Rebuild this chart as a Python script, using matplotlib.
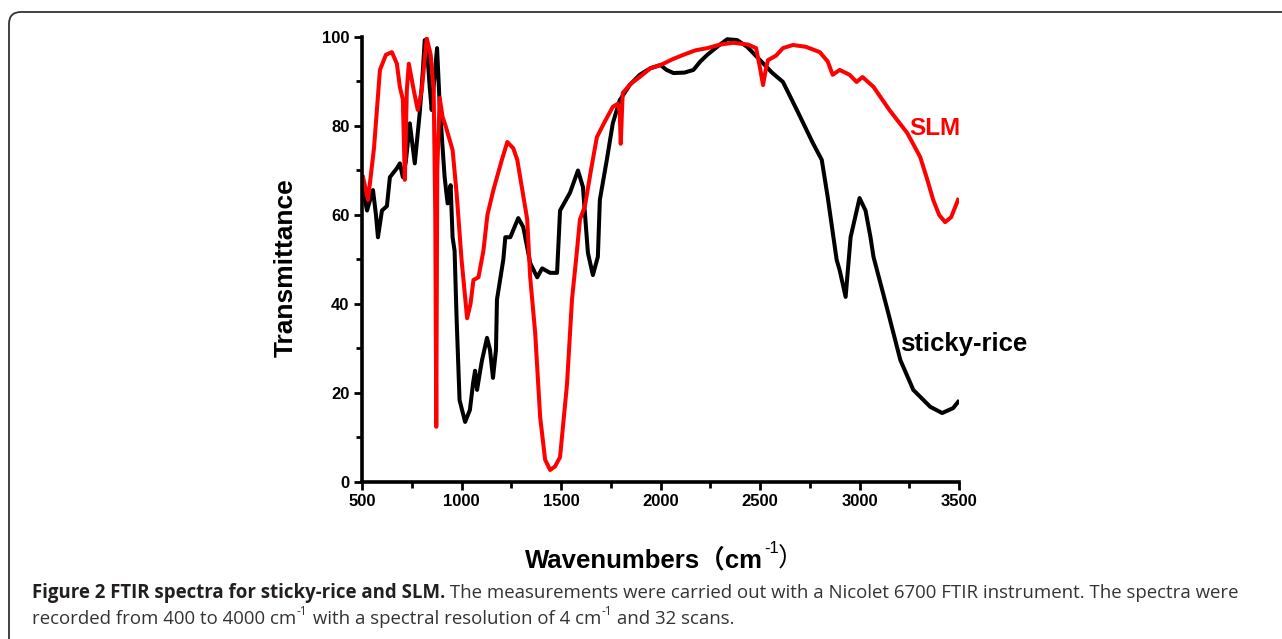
import matplotlib
matplotlib.use('Agg')
import matplotlib.pyplot as plt
from matplotlib.patches import FancyBboxPatch
from matplotlib.ticker import MultipleLocator

plt.rcParams['font.family'] = ['Liberation Sans', 'Noto Sans CJK SC', 'DejaVu Sans']

# SLM spectrum (wavenumber, transmittance)
slm_x = [505, 530, 560, 590, 620, 650, 675, 690, 705, 715, 725, 735, 760, 780, 800, 825,
         845, 860, 868, 873, 878, 890, 905, 920, 955, 975, 1000, 1028, 1045, 1060, 1085,
         1110, 1130, 1160, 1200, 1230, 1260, 1280, 1330, 1345, 1370, 1395, 1420, 1445,
         1470, 1495, 1530, 1555, 1580, 1595, 1620, 1650, 1680, 1720, 1760, 1785, 1795,
         1800, 1805, 1810, 1850, 1895, 1950, 2000, 2060, 2115, 2175, 2235, 2300, 2365,
         2440, 2480, 2500, 2515, 2530, 2540, 2580, 2615, 2665, 2730, 2800, 2840, 2865,
         2900, 2950, 2985, 3015, 3070, 3150, 3240, 3305, 3340, 3370, 3400, 3430, 3460, 3495]
slm_y = [68.5, 63.4, 75, 92.6, 96, 96.6, 94, 88.8, 86, 67.9, 88, 94, 88, 83.6, 88, 99.7,
         96, 88, 60, 12.4, 70, 86.3, 82, 80, 74.6, 65, 50, 36.8, 40, 45.4, 46,
         52, 60, 65.6, 72, 76.4, 75, 72.4, 59, 46, 33.5, 14.6, 5, 2.7,
         3.5, 5.6, 22, 41, 52, 59, 62, 70, 77.5, 81, 84.3, 85, 83,
         76, 82, 87.4, 89.5, 91, 93, 93.7, 95, 96, 97, 97.5, 98.3, 98.7,
         98.3, 97.5, 93, 89.2, 93, 94.8, 95.8, 97.5, 98.2, 97.8, 96.6, 94.5, 91.5,
         92.6, 91.5, 89.9, 91, 88.8, 83.6, 78.4, 73, 68, 63.4, 60, 58.4, 59.5, 63.4]

# sticky-rice spectrum
rice_x = [505, 525, 555, 570, 580, 600, 625, 640, 675, 690, 705, 720, 740, 765, 790, 805,
          815, 830, 840, 850, 862, 877, 890, 905, 915, 930, 945, 955, 965, 975, 990, 1018,
          1042, 1058, 1068, 1078, 1090, 1103, 1128, 1143, 1158, 1173, 1178, 1210, 1220,
          1245, 1285, 1310, 1345, 1380, 1405, 1445, 1480, 1495, 1545, 1585, 1610, 1635,
          1660, 1685, 1695, 1730, 1760, 1795, 1845, 1895, 1950, 2000, 2030, 2065, 2120,
          2165, 2200, 2235, 2290, 2335, 2385, 2435, 2500, 2560, 2615, 2685, 2765, 2810,
          2840, 2885, 2900, 2930, 2955, 3000, 3030, 3055, 3070, 3140, 3205, 3270, 3355,
          3415, 3470, 3495]
rice_y = [65.6, 61, 65.6, 60, 55, 61, 62, 68.5, 70.5, 71.6, 68.5, 72, 80.6, 71.6, 83, 92,
          99.3, 95, 88.8, 83.6, 90, 97.5, 85, 75, 68.5, 62.6, 66.7, 55, 52, 37, 18.4, 13.5,
          16.2, 22.2, 25, 20.7, 24, 27.4, 32.4, 29.7, 23.4, 29.7, 41, 50, 55,
          55, 59.3, 57.3, 49.2, 46, 48, 47, 47, 61, 65, 70, 66.3, 51.5,
          46.5, 50.6, 63.4, 72.4, 80.6, 85.8, 89.2, 91.5, 93, 93.7, 92.6, 91.9, 92,
          92.6, 94.5, 96, 98, 99.5, 99.3, 97.8, 94.8, 92, 89.9, 83.6, 76.2, 72.4,
          64, 49.9, 47.6, 41.6, 55, 63.8, 61, 55, 50.6, 38.7, 27.4, 20.7, 16.9,
          15.5, 16.6, 18]

fig = plt.figure(figsize=(12.82, 6.39), dpi=100)
ax = fig.add_axes([0.2824, 0.2457, 0.4657, 0.6964])

ax.plot(rice_x, rice_y, color='black', lw=2.9, solid_joinstyle='round')
ax.plot(slm_x, slm_y, color='#ff0000', lw=2.9, solid_joinstyle='round')

ax.set_xlim(500, 3500)
ax.set_ylim(0, 100)
ax.xaxis.set_major_locator(MultipleLocator(500))
ax.xaxis.set_minor_locator(MultipleLocator(250))
ax.yaxis.set_major_locator(MultipleLocator(20))
ax.yaxis.set_minor_locator(MultipleLocator(10))
ax.spines['top'].set_visible(False)
ax.spines['right'].set_visible(False)
for s in ['left', 'bottom']:
    ax.spines[s].set_linewidth(2.6)
ax.tick_params(which='major', direction='out', length=6, width=2, labelsize=12, pad=3)
ax.tick_params(which='minor', direction='out', length=4, width=2)
for lab in ax.get_xticklabels() + ax.get_yticklabels():
    lab.set_fontweight('bold')

ax.set_ylabel('Transmittance', fontsize=19, fontweight='bold')
ax.yaxis.set_label_coords(-0.108, 0.482)

ax.text(3250, 79.5, 'SLM', color='#ff0000', fontsize=17.5, fontweight='bold', ha='left', va='center')
ax.text(3205, 31, 'sticky-rice', color='black', fontsize=18.5, fontweight='bold', ha='left', va='center')

# x axis label with full width brackets and superscript
yb = 0.1127
xl = fig.text(0.4095, yb, 'Wavenumbers（cm', fontsize=18.5, fontweight='bold', ha='left', va='baseline')
sup = ax.annotate('-1', xy=(1, yb), xycoords=(xl, 'figure fraction'), xytext=(1, 10),
                  textcoords='offset points', fontsize=12, ha='left', va='baseline', annotation_clip=False)
ax.annotate('）', xy=(1, yb), xycoords=(sup, 'figure fraction'), xytext=(-1, 0),
            textcoords='offset points', fontsize=18.5, ha='left', va='baseline', annotation_clip=False)

# caption
cap = ['Open Sans', 'DejaVu Sans']
fs = 13.4
y1, y2 = 0.064, 0.0235
c1 = fig.text(0.025, y1, 'Figure 2 FTIR spectra for sticky-rice and SLM.', fontsize=fs,
              fontweight='bold', family=cap, ha='left', va='baseline', color='#231f20')
ax.annotate(' The measurements were carried out with a Nicolet 6700 FTIR instrument. The spectra were',
            xy=(1, y1), xycoords=(c1, 'figure fraction'), fontsize=fs, family=cap,
            ha='left', va='baseline', color='#333333', annotation_clip=False)

parts = ['recorded from 400 to 4000 cm', '-1', ' with a spectral resolution of 4 cm', '-1', ' and 32 scans.']
prev = fig.text(0.025, y2, parts[0], fontsize=fs, family=cap, ha='left', va='baseline', color='#333333')
for p in parts[1:]:
    if p == '-1':
        prev = ax.annotate(p, xy=(1, y2), xycoords=(prev, 'figure fraction'), xytext=(0.5, 6.5),
                           textcoords='offset points', fontsize=8.5, family=cap, ha='left',
                           va='baseline', color='#333333', annotation_clip=False)
    else:
        prev = ax.annotate(p, xy=(1, y2), xycoords=(prev, 'figure fraction'), fontsize=fs,
                           family=cap, ha='left', va='baseline', color='#333333',
                           annotation_clip=False)

# rounded frame round the figure
frame = FancyBboxPatch((9, -40), 1320, 667, boxstyle='round,pad=0,rounding_size=12',
                       transform=None, fill=False, edgecolor='#333333', lw=1.3)
fig.patches.append(frame)

fig.savefig('out.png', dpi=100)
